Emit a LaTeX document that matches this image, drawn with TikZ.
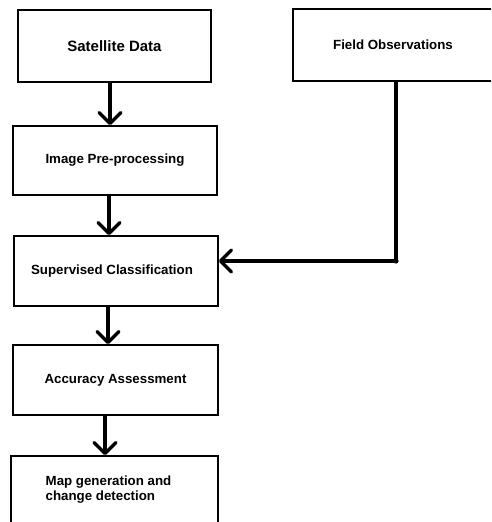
\documentclass[tikz,border=0pt]{standalone}
\usepackage{fontspec}
\setmainfont{Liberation Sans}
\usetikzlibrary{arrows.meta}
\begin{document}
\begin{tikzpicture}[x=1pt, y=-1pt, font=\fontsize{13.3}{15}\selectfont\bfseries,
	>={Straight Barb[length=11pt, width=22pt, round]},
	box/.style={draw, line width=1.8pt, inner sep=0pt, minimum width=204pt, minimum height=70pt},
	link/.style={->, line width=3.2pt}]
	\useasboundingbox (0,0) rectangle (491,522);
	\clip (0,0) rectangle (491,522);
	% boxes
	\node[box, minimum width=193pt, minimum height=72pt, font=\fontsize{15}{17}\selectfont\bfseries] (sat) at (114.5,46) {Satellite Data};
	\node[box, minimum width=200pt, minimum height=72pt] (field) at (393,45) {Field Observations};
	\node[box, minimum height=69pt] (pre) at (115,160.5) {Image Pre-processing};
	\node[box] (sup) at (116,271) {\hspace*{-8pt}Supervised Classification};
	\node[box, minimum width=205pt] (acc) at (115.5,380) {Accuracy Assessment};
	\node[box, minimum width=207pt, minimum height=68pt, align=left] (map) at (114.5,490) {\hspace*{-12pt}Map generation and\\\hspace*{-12pt}change detection};
	% arrows
	\foreach \a/\b/\s in {sat/pre/-4.5, pre/sup/-6, sup/acc/-8, acc/map/-10.5}{
		\draw[link] ([xshift=\s pt]\a.south) -- ([xshift=\s pt]\a.south |- \b.north);
	}
	\draw[link] ([xshift=3pt]field.south) |- ([yshift=10pt]sup.east) coordinate[pos=0.5] (K);
	\fill (K) circle (2.6pt);
\end{tikzpicture}
\end{document}
